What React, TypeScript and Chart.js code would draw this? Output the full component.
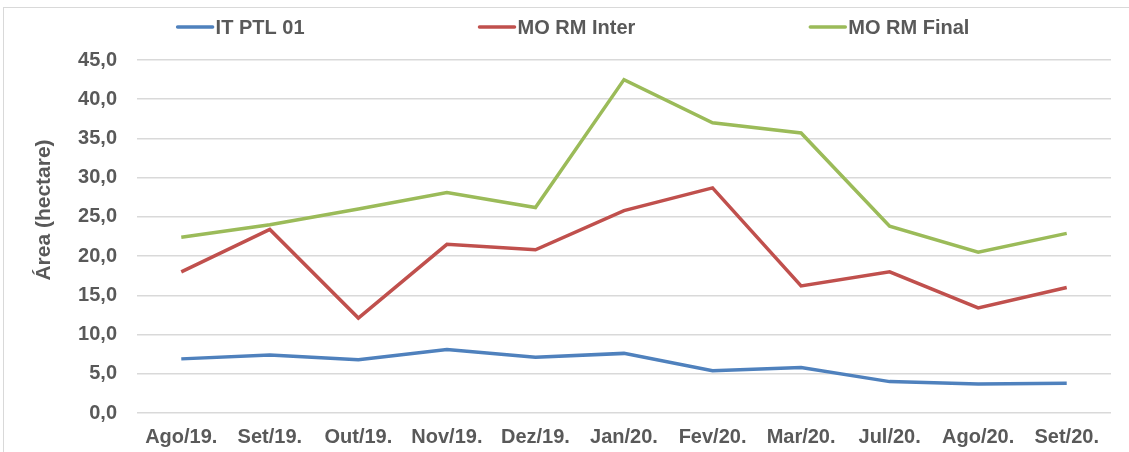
import React, { useEffect, useRef } from "react";
import { Chart, registerables } from "chart.js";

Chart.register(...registerables);

const categories = ["Ago/19.", "Set/19.", "Out/19.", "Nov/19.", "Dez/19.", "Jan/20.", "Fev/20.", "Mar/20.", "Jul/20.", "Ago/20.", "Set/20."];
const itPtl01 = [6.9, 7.4, 6.8, 8.1, 7.1, 7.6, 5.4, 5.8, 4.0, 3.7, 3.8];
const moRmInter = [18.0, 23.4, 12.1, 21.5, 20.8, 25.8, 28.7, 16.2, 18.0, 13.4, 16.0];
const moRmFinal = [22.4, 24.0, 26.0, 28.1, 26.2, 42.5, 37.0, 35.7, 23.8, 20.5, 22.9];
const seriesNames = ["IT PTL 01", "MO RM Inter", "MO RM Final"];
const seriesColors = ["#4f81bd", "#c0504d", "#9bbb59"];
const yTicks = { min: 0, max: 45, step: 5 };
const yTitle = "Área (hectare)";

const FONT = "'Liberation Sans', Arial, sans-serif";
const TEXT = "#595959";

const legendPlugin = {
  id: "customLegend",
  afterDraw(chart: any) {
    const ctx = chart.ctx;
    const items = chart.data.datasets;
    ctx.save();
    ctx.font = `bold 20px ${FONT}`;
    ctx.textBaseline = "middle";
    const lineW = 37;
    const gap = 2;
    const spacing = 174;
    const widths = items.map((d: any) => lineW + gap + ctx.measureText(d.label).width);
    const total = widths.reduce((a: number, b: number) => a + b, 0) + spacing * (items.length - 1);
    let x = 573 - total / 2;
    const y = 27;
    items.forEach((d: any, i: number) => {
      ctx.strokeStyle = d.borderColor;
      ctx.lineWidth = 3.5;
      ctx.lineCap = "round";
      ctx.beginPath();
      ctx.moveTo(x + 1, y);
      ctx.lineTo(x + lineW - 1, y);
      ctx.stroke();
      ctx.fillStyle = TEXT;
      ctx.textAlign = "left";
      ctx.fillText(d.label, x + lineW + gap, y + 1);
      x += widths[i] + spacing;
    });
    // y-axis title
    ctx.translate(44, 210);
    ctx.rotate(-Math.PI / 2);
    ctx.font = `bold 21px ${FONT}`;
    ctx.textAlign = "center";
    ctx.textBaseline = "middle";
    ctx.fillText(yTitle, 0, 0);
    ctx.restore();
  },
};

export default function App() {
  const ref = useRef<HTMLCanvasElement | null>(null);
  useEffect(() => {
    if (!ref.current) return;
    const data = [itPtl01, moRmInter, moRmFinal];
    const chart = new Chart(ref.current, {
      type: "line",
      data: {
        labels: categories,
        datasets: data.map((vals, i) => ({
          label: seriesNames[i],
          data: vals,
          borderColor: seriesColors[i],
          backgroundColor: seriesColors[i],
          borderWidth: 3.5,
          pointRadius: 0,
          tension: 0,
          fill: false,
        })),
      },
      options: {
        animation: false,
        responsive: false,
        maintainAspectRatio: false,
        layout: { padding: { top: 60, right: 18, bottom: 0, left: 0 } },
        plugins: {
          legend: { display: false },
          tooltip: { enabled: false },
        },
        scales: {
          x: {
            offset: true,
            grid: { display: false, drawTicks: false },
            border: { display: false },
            ticks: {
              color: TEXT,
              font: { family: FONT, size: 20, weight: "bold" },
              padding: 12,
              maxRotation: 0,
              autoSkip: false,
            },
            afterFit: (s: any) => { s.height = 39; },
          },
          y: {
            min: yTicks.min,
            max: yTicks.max,
            grid: { color: "#d9d9d9", lineWidth: 1.5, drawTicks: false },
            border: { display: false },
            ticks: {
              stepSize: yTicks.step,
              color: TEXT,
              font: { family: FONT, size: 20, weight: "bold" },
              padding: 20,
              callback: (v: any) => Number(v).toFixed(1).replace(".", ","),
            },
            afterFit: (s: any) => { s.width = 137; },
          },
        },
      },
      plugins: [legendPlugin],
    });
    return () => chart.destroy();
  }, []);
  return (
    <div style={{ position: "fixed", left: 0, top: 0, width: 1129, height: 452, background: "#fff" }}>
      <div style={{ position: "absolute", left: 3, top: 7, width: 1140, height: 460, border: "1px solid #d9d9d9" }} />
      <canvas ref={ref} width={1129} height={452} style={{ position: "absolute", left: 0, top: 0 }} />
    </div>
  );
}
